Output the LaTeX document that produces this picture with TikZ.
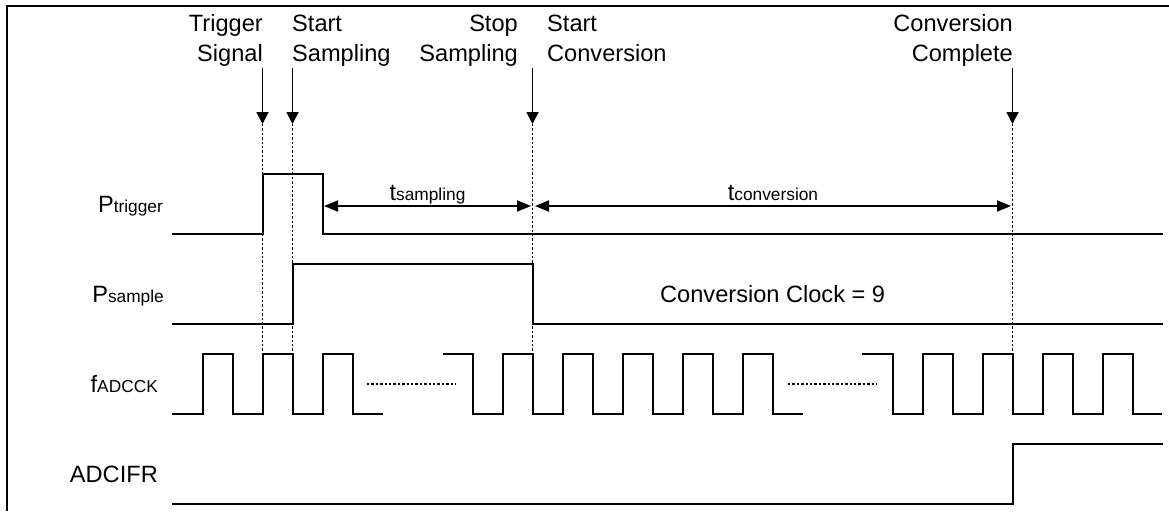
\documentclass[tikz,border=0pt]{standalone}
\usepackage{fontspec}
\setmainfont{Liberation Sans}
\usetikzlibrary{arrows.meta,positioning}
\newcommand\subtxt[1]{{\fontsize{17.3}{20}\selectfont #1}}

\begin{document}
\begin{tikzpicture}[
    x=1pt, y=-1pt,
    every node/.style={inner sep=0pt, font=\fontsize{23.6}{29.5}\selectfont},
    wave/.style={line width=2pt, line join=miter},
    guide/.style={line width=1.6pt, dash pattern=on 2.4pt off 2pt},
    event/.style={-{Triangle[length=12pt,width=12pt]}, line width=1.8pt},
    span/.style={{Triangle[length=14pt,width=11pt]}-{Triangle[length=14pt,width=11pt]}, line width=1.8pt}
  ]
  \useasboundingbox (0,0) rectangle (1169,511);
  \draw[line width=2.5pt] (7,511) |- (1169,6);

  \node[anchor=base east, align=right] (trigger) at (263,61.5) {Trigger\\Signal};
  \node[anchor=base west, align=left] (startsamp) at (292,61.5) {Start\\Sampling};
  \node[anchor=base east, align=right] (stopsamp) at (518,61.5) {Stop\\Sampling};
  \node[anchor=base west, align=left] (startconv) at (547,61.5) {Start\\Conversion};
  \node[anchor=base east, align=right] (convdone) at (1013,61.5) {Conversion\\Complete};

  \foreach \x/\n in {262.5/trig, 292.5/samp, 532.5/stop, 1012.5/done} {
    \coordinate (\n top) at (\x,68);
    \coordinate (\n) at (\x,124);
    \coordinate (\n low) at (\x,352);
    \draw[event] (\n top) -- (\n);
    \draw[guide] (\n) -- (\n low);
  }

  \node[anchor=base east] (ptrig) at (163,212) {P\subtxt{trigger}};
  \node[anchor=base east] (psamp) at (164,302) {P\subtxt{sample}};
  \node[anchor=base east] (fclk) at (158,392) {f\subtxt{ADCCK}};
  \node[anchor=base east] (flag) at (158,482) {ADCIFR};

  \draw[wave] (172,234) -- (262.5,234) -- (262.5,174) -- (322.5,174) -- (322.5,234) -- (1163,234);
  \draw[wave] (172,324) -- (292.5,324) -- (292.5,264) -- (532.5,264) -- (532.5,324) -- (1163,324);
  \draw[wave] (172,504) -- (1012.5,504) -- (1012.5,444) -- (1163,444);

  \draw[wave] (172,414) foreach \r in {202.5,262.5,322.5} { -- (\r,414) -- (\r,354) -- (\r+30,354) -- (\r+30,414) } -- (383,414);
  \draw[wave] (443,354) foreach \f in {472.5,532.5,592.5,652.5,712.5} { -- (\f,354) -- (\f,414) -- (\f+30,414) -- (\f+30,354) } -- (772.5,354) -- (772.5,414) -- (803,414);
  \draw[wave] (862,354) foreach \f in {892.5,952.5,1012.5,1072.5} { -- (\f,354) -- (\f,414) -- (\f+30,414) -- (\f+30,354) } -- (1132.5,354) -- (1132.5,414) -- (1162,414);
  \draw[guide] (367,384) -- (456,384);
  \draw[guide] (788,384) -- (877,384);

  \coordinate (sampL) at (324,206);
  \coordinate (sampR) at (531,206);
  \coordinate (convL) at (535,206);
  \coordinate (convR) at (1011,206);
  \draw[span] (sampL) -- (sampR);
  \draw[span] (convL) -- (convR);
  \node[anchor=base] (tsamp) at (427.5,200) {t\subtxt{sampling}};
  \node[anchor=base] (tconv) at (773,200) {t\subtxt{conversion}};

  \node[anchor=base west] (clkcount) at (660,302.5) {Conversion Clock = 9};
\end{tikzpicture}
\end{document}
